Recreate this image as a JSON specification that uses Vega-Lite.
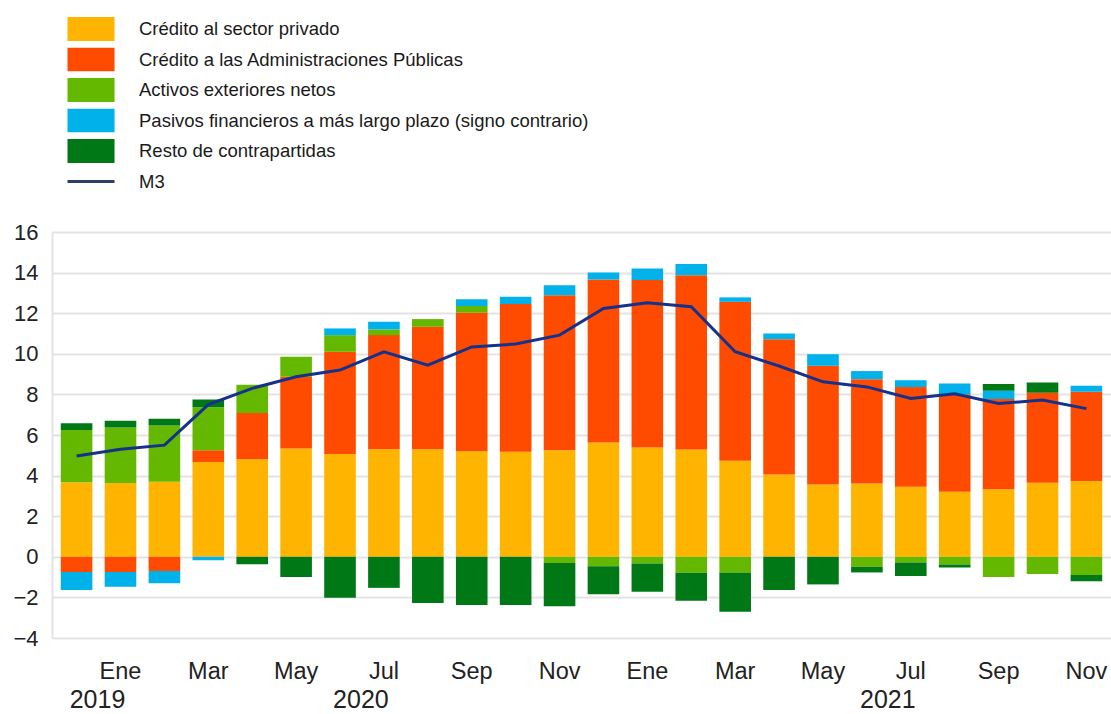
{
  "$schema": "https://vega.github.io/schema/vega-lite/v6.json",
  "width": 1059,
  "height": 406,
  "autosize": "none",
  "padding": {"left": 52, "top": 232, "right": 0, "bottom": 76},
  "background": "white",
  "config": {
    "view": {"stroke": null},
    "font": "Liberation Sans"
  },
  "datasets": {
    "tabla": [
      {"mes": "2019-12", "privado": 3.67, "aapp": -0.75, "exterior": 2.58, "pasivos": -0.88, "resto": 0.33, "m3": 4.97},
      {"mes": "2020-01", "privado": 3.63, "aapp": -0.75, "exterior": 2.74, "pasivos": -0.72, "resto": 0.33, "m3": 5.3},
      {"mes": "2020-02", "privado": 3.70, "aapp": -0.70, "exterior": 2.77, "pasivos": -0.60, "resto": 0.33, "m3": 5.5},
      {"mes": "2020-03", "privado": 4.67, "aapp": 0.58, "exterior": 2.12, "pasivos": -0.17, "resto": 0.38, "m3": 7.5},
      {"mes": "2020-04", "privado": 4.80, "aapp": 2.28, "exterior": 1.40, "pasivos": 0, "resto": -0.37, "m3": 8.3},
      {"mes": "2020-05", "privado": 5.34, "aapp": 3.53, "exterior": 0.98, "pasivos": 0, "resto": -0.99, "m3": 8.87},
      {"mes": "2020-06", "privado": 5.06, "aapp": 5.04, "exterior": 0.82, "pasivos": 0.33, "resto": -2.02, "m3": 9.2},
      {"mes": "2020-07", "privado": 5.30, "aapp": 5.62, "exterior": 0.28, "pasivos": 0.38, "resto": -1.53, "m3": 10.1},
      {"mes": "2020-08", "privado": 5.30, "aapp": 6.03, "exterior": 0.38, "pasivos": 0, "resto": -2.27, "m3": 9.44},
      {"mes": "2020-09", "privado": 5.20, "aapp": 6.82, "exterior": 0.33, "pasivos": 0.34, "resto": -2.38, "m3": 10.34},
      {"mes": "2020-10", "privado": 5.17, "aapp": 7.28, "exterior": 0, "pasivos": 0.36, "resto": -2.38, "m3": 10.48},
      {"mes": "2020-11", "privado": 5.25, "aapp": 7.64, "exterior": -0.30, "pasivos": 0.49, "resto": -2.13, "m3": 10.92},
      {"mes": "2020-12", "privado": 5.63, "aapp": 8.03, "exterior": -0.46, "pasivos": 0.34, "resto": -1.38, "m3": 12.23},
      {"mes": "2021-01", "privado": 5.39, "aapp": 8.24, "exterior": -0.33, "pasivos": 0.57, "resto": -1.39, "m3": 12.52},
      {"mes": "2021-02", "privado": 5.29, "aapp": 8.58, "exterior": -0.79, "pasivos": 0.55, "resto": -1.38, "m3": 12.32},
      {"mes": "2021-03", "privado": 4.73, "aapp": 7.83, "exterior": -0.79, "pasivos": 0.22, "resto": -1.92, "m3": 10.1},
      {"mes": "2021-04", "privado": 4.06, "aapp": 6.66, "exterior": 0, "pasivos": 0.28, "resto": -1.64, "m3": 9.4},
      {"mes": "2021-05", "privado": 3.56, "aapp": 5.85, "exterior": 0, "pasivos": 0.57, "resto": -1.36, "m3": 8.62},
      {"mes": "2021-06", "privado": 3.61, "aapp": 5.14, "exterior": -0.49, "pasivos": 0.40, "resto": -0.28, "m3": 8.37},
      {"mes": "2021-07", "privado": 3.45, "aapp": 4.92, "exterior": -0.28, "pasivos": 0.33, "resto": -0.67, "m3": 7.8},
      {"mes": "2021-08", "privado": 3.20, "aapp": 4.81, "exterior": -0.38, "pasivos": 0.53, "resto": -0.15, "m3": 8.03},
      {"mes": "2021-09", "privado": 3.33, "aapp": 4.44, "exterior": -0.99, "pasivos": 0.41, "resto": 0.33, "m3": 7.55},
      {"mes": "2021-10", "privado": 3.65, "aapp": 4.43, "exterior": -0.85, "pasivos": 0, "resto": 0.51, "m3": 7.72},
      {"mes": "2021-11", "privado": 3.74, "aapp": 4.39, "exterior": -0.90, "pasivos": 0.29, "resto": -0.30, "m3": 7.3}
    ]
  },
  "data": {"name": "tabla"},
  "layer": [
    {
      "transform": [
        {"fold": ["privado", "aapp", "exterior", "pasivos", "resto"], "as": ["serie", "valor"]},
        {"calculate": "indexof(['privado','aapp','exterior','pasivos','resto'], datum.serie)", "as": "orden"}
      ],
      "mark": {"type": "bar"},
      "encoding": {
        "x": {
          "field": "mes",
          "type": "ordinal",
          "scale": {"paddingInner": 0.28, "paddingOuter": 0.2},
          "axis": {
            "orient": "bottom",
            "title": null,
            "domain": false,
            "ticks": false,
            "grid": false,
            "labelAngle": 0,
            "labelOverlap": false,
            "labelFontSize": 23.5,
            "labelColor": "#222222",
            "labelPadding": 21,
            "labelExpr": "indexof(['01','03','05','07','09','11'], slice(datum.value, 5)) >= 0 ? ['Ene','Feb','Mar','Abr','May','Jun','Jul','Ago','Sep','Oct','Nov','Dic'][toNumber(slice(datum.value, 5)) - 1] : ''"
          }
        },
        "y": {
          "field": "valor",
          "type": "quantitative",
          "stack": "zero",
          "scale": {"domain": [-4, 16], "nice": false, "zero": false},
          "axis": {
            "title": null,
            "values": [-4, -2, 0, 2, 4, 6, 8, 10, 12, 14, 16],
            "ticks": false,
            "labelFontSize": 22,
            "labelColor": "#222222",
            "labelPadding": 14,
            "domain": true,
            "domainColor": "#e3e3e3",
            "domainWidth": 2,
            "grid": true,
            "gridColor": "#e3e3e3",
            "gridWidth": 2
          }
        },
        "color": {
          "field": "serie",
          "type": "nominal",
          "scale": {
            "domain": ["privado", "aapp", "exterior", "pasivos", "resto", "m3"],
            "range": ["#FFB400", "#FF4B00", "#65B800", "#00B1EA", "#007816", "#14318c"]
          },
          "legend": {
            "title": null,
            "orient": "none",
            "legendX": 14,
            "legendY": -215,
            "padding": 0,
            "symbolSize": 576,
            "clipHeight": 24,
            "labelFontSize": 18.5,
            "labelColor": "#1a1a1a",
            "labelOffset": 46,
            "labelLimit": 800,
            "rowPadding": 6.5,
            "labelExpr": "{'privado': 'Crédito al sector privado', 'aapp': 'Crédito a las Administraciones Públicas', 'exterior': 'Activos exteriores netos', 'pasivos': 'Pasivos financieros a más largo plazo (signo contrario)', 'resto': 'Resto de contrapartidas', 'm3': 'M3'}[datum.value]",
            "encode": {
              "symbols": {
                "update": {
                  "shape": {"signal": "datum.value === 'm3' ? 'M-1,0L2.92,0' : 'M-1,-1L2.92,-1L2.92,1L-1,1Z'"},
                  "fill": {"signal": "datum.value === 'm3' ? 'transparent' : scale('color', datum.value)"},
                  "stroke": {"signal": "datum.value === 'm3' ? '#2e3f66' : 'transparent'"},
                  "strokeWidth": {"value": 3},
                  "opacity": {"value": 1}
                }
              }
            }
          }
        },
        "order": {"field": "orden", "type": "quantitative"}
      }
    },
    {
      "mark": {"type": "line", "color": "#14318c", "strokeWidth": 3},
      "encoding": {
        "x": {
          "field": "mes",
          "type": "ordinal",
          "axis": {
            "orient": "bottom",
            "title": null,
            "domain": false,
            "ticks": false,
            "grid": false,
            "labelAngle": 0,
            "labelOverlap": false,
            "labelFontSize": 25,
            "labelColor": "#222222",
            "labelPadding": 49,
            "labelOffset": -23,
            "labelExpr": "datum.value == '2020-01' ? '2019' : datum.value == '2020-07' ? '2020' : datum.value == '2021-07' ? '2021' : ''"
          }
        },
        "y": {"field": "m3", "type": "quantitative"}
      }
    }
  ],
  "resolve": {"axis": {"x": "independent"}}
}
